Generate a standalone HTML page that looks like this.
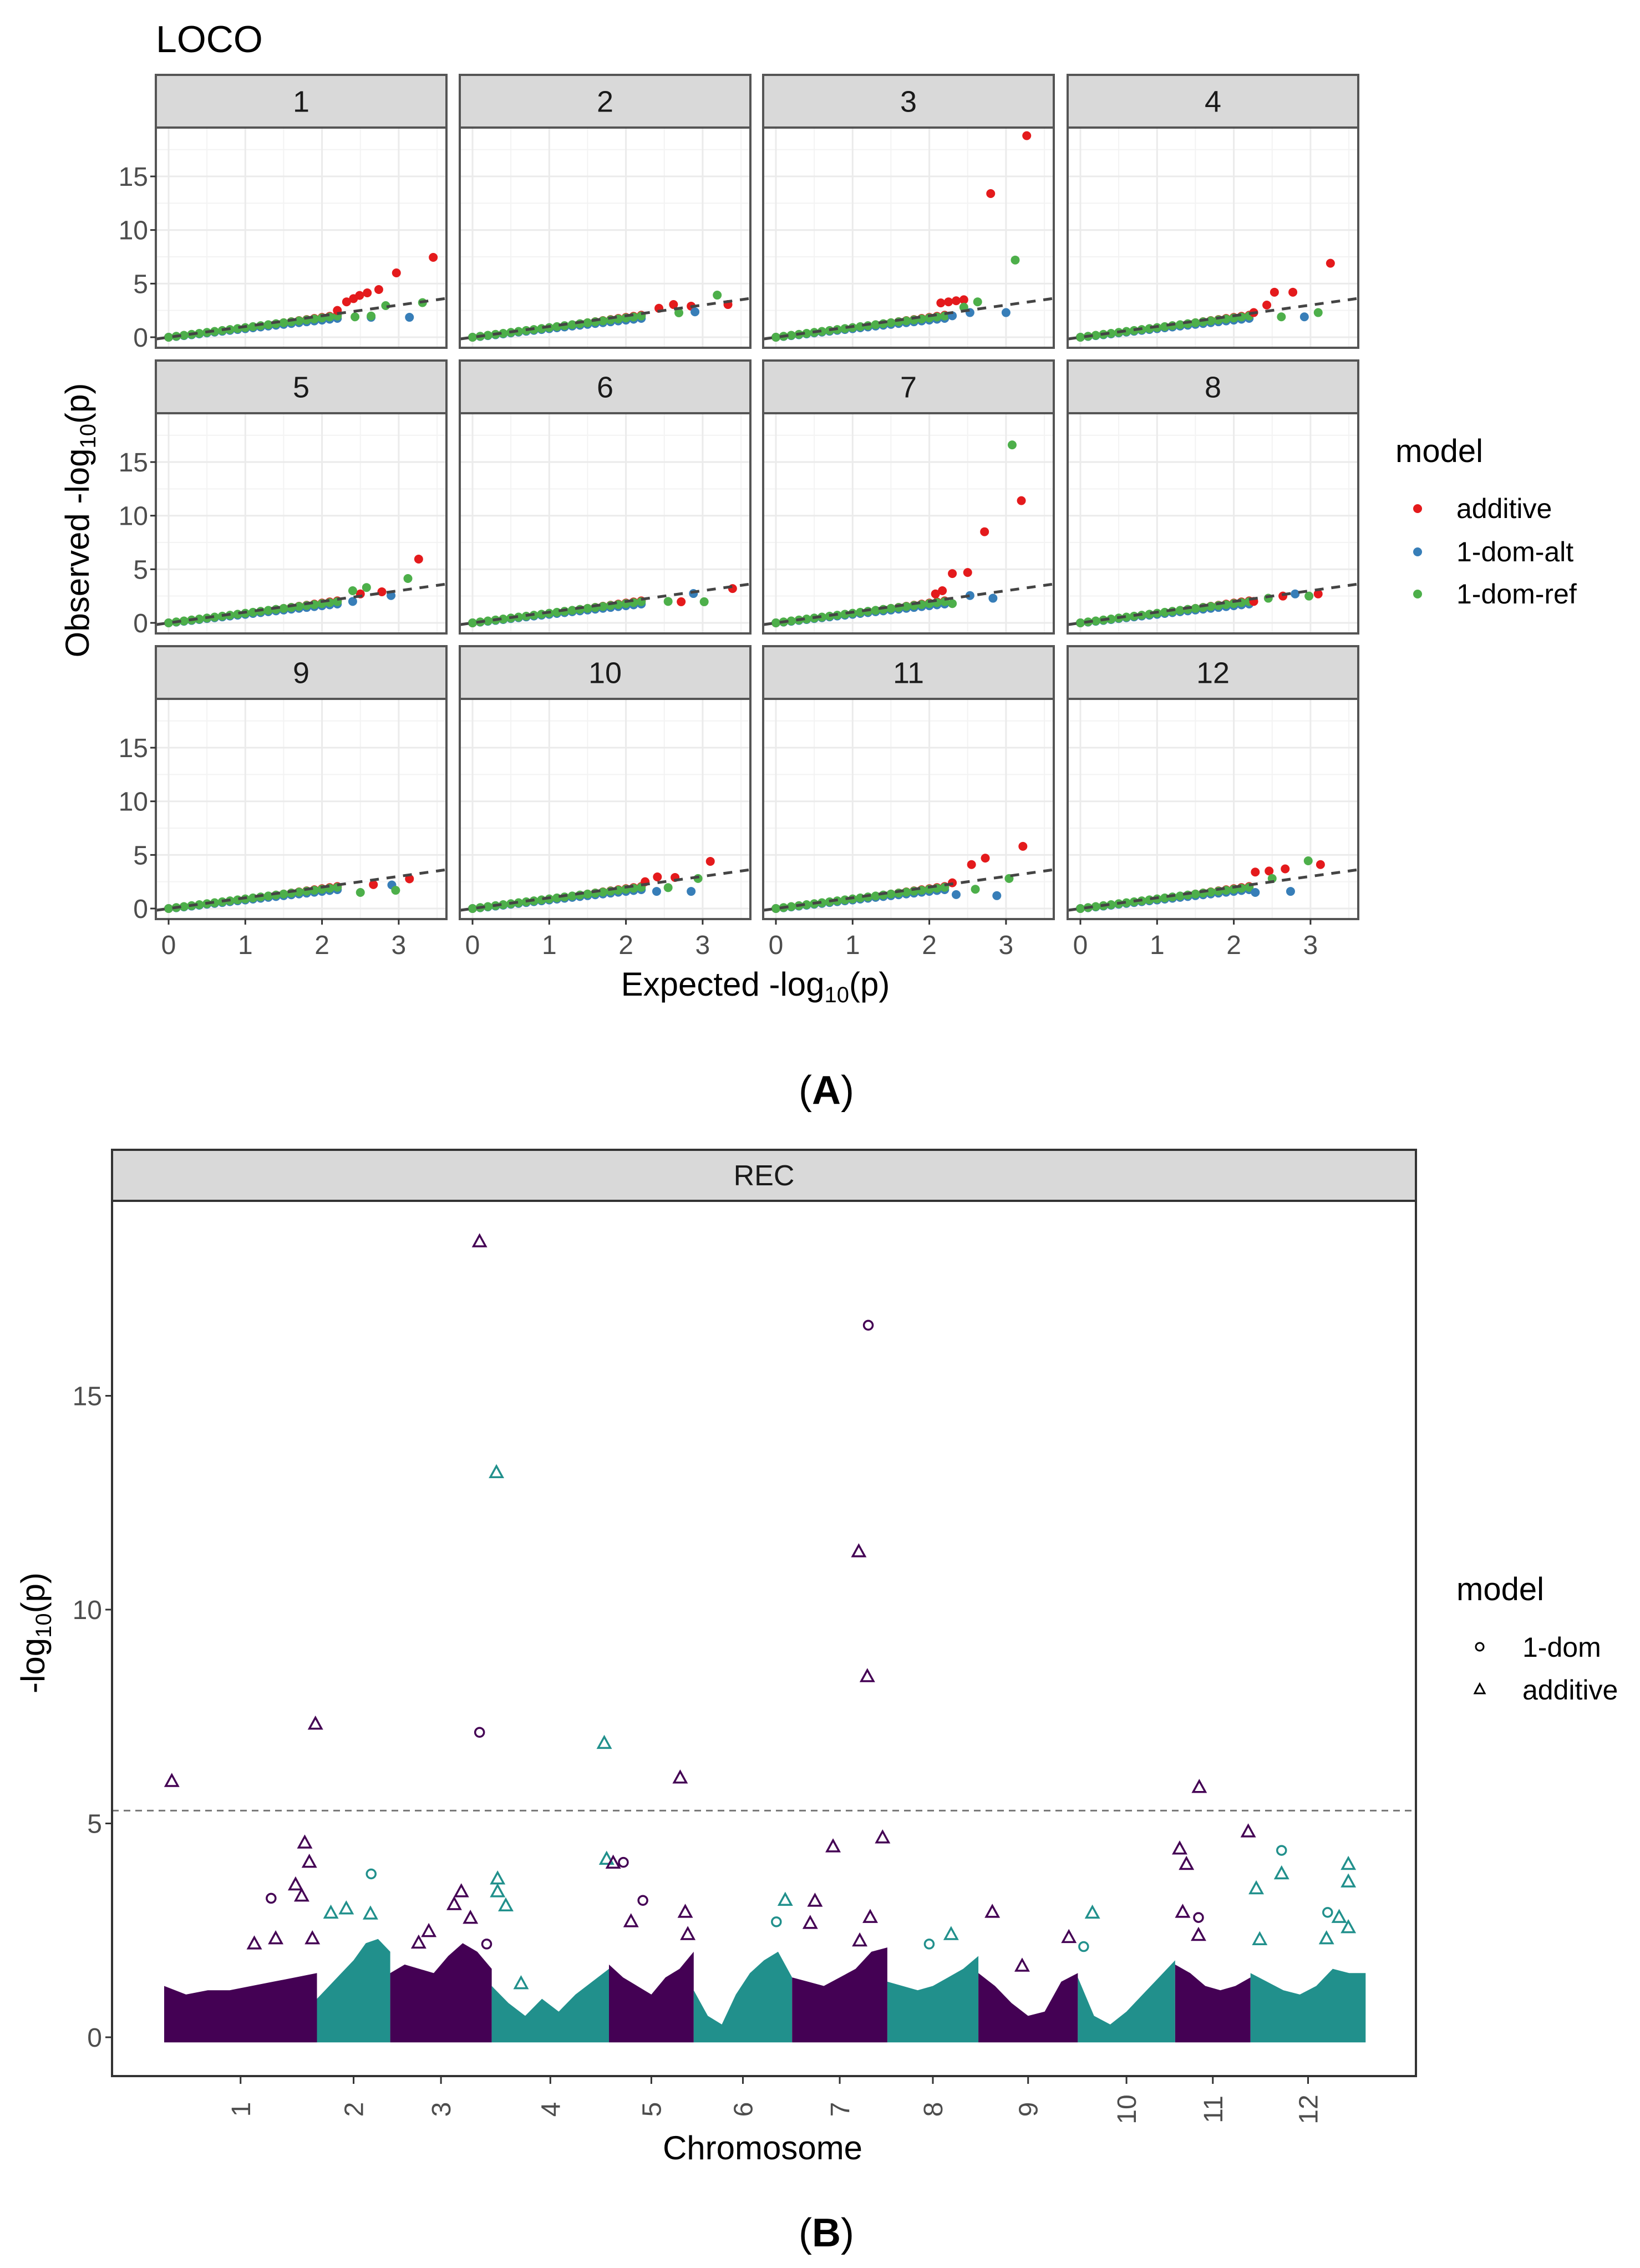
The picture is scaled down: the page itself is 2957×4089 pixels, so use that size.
<!DOCTYPE html>
<html><head><meta charset="utf-8">
<style>
html,body{margin:0;padding:0;background:#fff;}
svg{display:block;}
text{font-family:"Liberation Sans",Arial,sans-serif;}
</style></head>
<body>
<svg id="fig" xmlns="http://www.w3.org/2000/svg" width="2957" height="4089" viewBox="0 0 2957 4089">
<rect x="0" y="0" width="2957" height="4089" fill="#fff"/>
<g id="qq"></g>
<g id="mh"></g>
<text x="281" y="94" font-size="68" fill="#000">LOCO</text>
<text x="1362" y="1795" font-size="60" text-anchor="middle" fill="#000">Expected -log<tspan font-size="40" dy="12">10</tspan><tspan dy="-12">(p)</tspan></text>
<text transform="translate(160,938) rotate(-90)" font-size="60" text-anchor="middle" fill="#000">Observed -log<tspan font-size="40" dy="12">10</tspan><tspan dy="-12">(p)</tspan></text>
<g>
<text x="2516" y="833" font-size="58" fill="#000">model</text>
<circle cx="2556" cy="917" r="8" fill="#e41a1c"/>
<text x="2626" y="934" font-size="50" fill="#000">additive</text>
<circle cx="2556" cy="995" r="8" fill="#377eb8"/>
<text x="2626" y="1012" font-size="50" fill="#000">1-dom-alt</text>
<circle cx="2556" cy="1071" r="8" fill="#4daf4a"/>
<text x="2626" y="1088" font-size="50" fill="#000">1-dom-ref</text>
</g>
<text x="1490" y="1990" font-size="72" text-anchor="middle" font-family="Liberation Serif,serif" fill="#000">(<tspan font-weight="bold">A</tspan>)</text>
<text x="1490" y="4050" font-size="72" text-anchor="middle" font-family="Liberation Serif,serif" fill="#000">(<tspan font-weight="bold">B</tspan>)</text>
<text x="1375" y="3893" font-size="60" text-anchor="middle" fill="#000">Chromosome</text>
<text transform="translate(80,2944) rotate(-90)" font-size="60" text-anchor="middle" fill="#000">-log<tspan font-size="40" dy="12">10</tspan><tspan dy="-12">(p)</tspan></text>
<g>
<text x="2626" y="2885" font-size="58" fill="#000">model</text>
<circle cx="2668" cy="2969" r="7" fill="none" stroke="#000" stroke-width="3"/>
<text x="2745" y="2987" font-size="50" fill="#000">1-dom</text>
<path d="M2668,3036 L2677,3053 L2659,3053 Z" fill="none" stroke="#000" stroke-width="3"/>
<text x="2745" y="3064" font-size="50" fill="#000">additive</text>
</g>
</svg>
<script>
// ================= QQ data =================
const qqPanels = ["1","2","3","4","5","6","7","8","9","10","11","12"];
const qqYTicks = [0,5,10,15];
const qqXTicks = [0,1,2,3];
const bulkExpected = [0,0.1,0.2,0.3,0.4,0.5,0.6,0.7,0.8,0.9,1.0,1.1,1.2,1.3,1.4,1.5,1.6,1.7,1.8,1.9,2.0,2.1,2.2];
const bulkAdditive = [0,0.08,0.17,0.26,0.34,0.43,0.52,0.6,0.69,0.78,0.88,0.97,1.06,1.15,1.25,1.35,1.45,1.55,1.65,1.75,1.85,1.95,2.05];
const bulkDomAlt   = [0,0.07,0.15,0.23,0.31,0.4,0.48,0.56,0.64,0.72,0.8,0.88,0.96,1.04,1.12,1.2,1.28,1.36,1.44,1.52,1.6,1.68,1.76];
const bulkDomRef   = [0,0.09,0.18,0.27,0.36,0.45,0.54,0.63,0.72,0.81,0.9,0.99,1.08,1.17,1.26,1.35,1.44,1.53,1.62,1.71,1.8,1.89,1.98];
// tails per panel: [expected, observed]
const tailAdditive = [
 [[3.45,7.45],[2.97,6.0],[2.74,4.45],[2.59,4.14],[2.49,3.9],[2.41,3.6],[2.32,3.3],[2.2,2.5]],
 [[3.33,3.05],[2.85,2.9],[2.62,3.05],[2.43,2.7]],
 [[3.27,18.8],[2.8,13.4],[2.45,3.5],[2.35,3.4],[2.25,3.3],[2.15,3.2]],
 [[3.26,6.9],[2.77,4.2],[2.53,4.2],[2.43,3.0],[2.26,2.3]],
 [[3.26,5.95],[2.78,2.9],[2.5,2.7]],
 [[3.39,3.2],[2.72,1.97]],
 [[3.2,11.4],[2.72,8.5],[2.5,4.7],[2.3,4.6],[2.17,3.0],[2.08,2.7]],
 [[3.1,2.7],[2.64,2.5],[2.26,2.0]],
 [[3.14,2.77],[2.67,2.23]],
 [[3.1,4.4],[2.64,2.9],[2.41,2.95],[2.25,2.5]],
 [[3.22,5.8],[2.73,4.7],[2.55,4.1],[2.3,2.4]],
 [[3.13,4.1],[2.67,3.7],[2.46,3.5],[2.28,3.4]]
];
const tailDomAlt = [
 [[3.14,1.86],[2.64,1.86]],
 [[2.9,2.37]],
 [[3.0,2.3],[2.53,2.3],[2.3,2.0]],
 [[2.92,1.9]],
 [[2.9,2.55],[2.4,2.0]],
 [[2.88,2.74]],
 [[2.53,2.55],[2.83,2.3]],
 [[2.8,2.7]],
 [[2.91,2.2]],
 [[2.85,1.6],[2.4,1.6]],
 [[2.88,1.2],[2.35,1.3]],
 [[2.74,1.6],[2.28,1.5]]
];
const tailDomRef = [
 [[3.31,3.23],[2.83,2.95],[2.64,1.98],[2.43,1.9]],
 [[3.19,3.93],[2.69,2.28]],
 [[3.12,7.2],[2.63,3.3],[2.45,2.8]],
 [[3.1,2.3],[2.62,1.9]],
 [[3.12,4.14],[2.58,3.3],[2.4,3.0]],
 [[3.02,1.97],[2.55,2.0]],
 [[3.08,16.6],[2.3,1.8]],
 [[2.98,2.5],[2.45,2.3]],
 [[2.96,1.7],[2.5,1.5]],
 [[2.94,2.8],[2.55,1.95]],
 [[3.04,2.8],[2.6,1.8]],
 [[2.97,4.45],[2.5,2.8]]
];

// ================= Manhattan data =================
const chromNames = ["1","2","3","4","5","6","7","8","9","10","11","12"];
const chromLengths = [146,70,97,112,81,94,91,87,95,93,72,110];
const chromProfiles = [
 [1.2,1.0,1.1,1.1,1.2,1.3,1.4,1.5],
 [0.9,1.2,1.5,1.8,2.2,2.3,2.0],
 [1.5,1.7,1.6,1.5,1.9,2.2,2.0,1.6],
 [1.2,0.8,0.5,0.9,0.6,1.0,1.3,1.6],
 [1.7,1.4,1.2,1.0,1.4,1.6,2.0],
 [1.1,0.5,0.3,1.0,1.5,1.8,2.0,1.4],
 [1.4,1.3,1.2,1.4,1.6,2.0,2.1],
 [1.3,1.2,1.1,1.2,1.4,1.6,1.9],
 [1.5,1.2,0.8,0.5,0.6,1.3,1.5],
 [1.4,0.5,0.3,0.6,1.0,1.4,1.8],
 [1.7,1.5,1.2,1.1,1.2,1.4],
 [1.5,1.3,1.1,1.0,1.2,1.6,1.5,1.5]
];
const mhYTicks = [0,5,10,15];
const mhThreshold = 5.3;
// points: chromosome index (0-based), fraction in chromosome, -log10 p, shape
const snpChrom = [0,0,2,2,3,3,4,6,6,6,10, 0,0,0,0,0,0,0,0, 1,1,1,1, 2,3,3,3,2,2,2,2,2, 3,4,4,4,4,4,4,3, 5,5, 6,6,6,6,6,6, 8,7,7,8, 8,9,9, 10,10,10,10,10, 10,11,11,11,11,11,11,11,11,11,11];
const snpFrac  = [0.05,0.99,0.88,0.88,0.04,0.96,0.84,0.80,0.70,0.79,0.32, 0.92,0.95,0.86,0.90,0.70,0.97,0.73,0.59, 0.74,0.40,0.19,0.73, 0.70,0.05,0.05,0.12,0.38,0.28,0.63,0.79,0.95, 0.98,0.05,0.17,0.40,0.26,0.90,0.93,0.25, 0.93,0.84, 0.43,0.95,0.24,0.19,0.82,0.71, 0.14,0.70,0.46,0.44, 0.91,0.06,0.15, 0.06,0.15,0.10,0.31,0.31, 0.97,0.27,0.27,0.05,0.08,0.85,0.85,0.67,0.77,0.85,0.66];
const snpValue = [5.98,7.32,18.6,7.13,13.2,6.87,6.06,16.65,11.35,8.43,5.84, 4.54,4.09,3.56,3.3,3.25,2.3,2.3,2.18, 3.82,3.0,2.9,2.88, 3.4,3.7,3.4,3.07,2.47,2.2,3.1,2.78,2.18, 4.16,4.07,4.09,3.2,2.7,2.92,2.4,1.25, 3.2,2.7, 4.45,4.66,3.18,2.66,2.8,2.25, 2.92,2.4,2.18,1.66, 2.33,2.12,2.9, 4.4,4.04,2.92,2.8,2.38, 4.8,4.37,3.82,3.47,2.28,4.04,3.63,2.92,2.8,2.56,2.3];
const snpModel = ["a","a","a","d","a","a","a","d","a","a","a", "a","a","a","a","d","a","a","a", "d","a","a","a", "a","a","a","a","a","a","a","a","d", "a","a","d","d","a","a","a","a", "a","d", "a","a","a","a","a","a", "a","a","d","a", "a","d","a", "a","a","a","d","a", "a","d","a","a","a","a","a","d","a","a","a"];

const NS = "http://www.w3.org/2000/svg";
function mk(tag, attrs, parent){ const e=document.createElementNS(NS,tag); for(const k in attrs) e.setAttribute(k,attrs[k]); parent.appendChild(e); return e; }

// ---------- QQ drawing ----------
const qq = document.getElementById('qq');
const colLeft = [281,829,1376,1925];
const panelW = 524;
const stripTop = [135,650,1165];
const plotTop = [230,745,1260];
const plotBottom = [627,1142,1657];
const colZero = [304,852,1399,1948];
const rowZero = [608,1123,1638];
const XU = 138.3, YU = 19.33;
const cols = {a:"#e41a1c", b:"#377eb8", g:"#4daf4a"};
qqPanels.forEach((name,i)=>{
  const c=i%4, r=Math.floor(i/4);
  const sx = v=>colZero[c]+v*XU;
  const sy = v=>rowZero[r]-v*YU;
  const g = mk('g',{},qq);
  
  
  const bg = mk('rect',{x:colLeft[c],y:plotTop[r],width:panelW,height:plotBottom[r]-plotTop[r],fill:'#fff'},g);
  
  
  // minor grid
  [0.5,1.5,2.5,3.5].forEach(v=>{ const l=mk('line',{x1:sx(v),x2:sx(v),y1:plotTop[r],y2:plotBottom[r],stroke:'#f3f3f3','stroke-width':2},g);
     });
  [2.5,7.5,12.5,17.5].forEach(v=>{ const l=mk('line',{x1:colLeft[c],x2:colLeft[c]+panelW,y1:sy(v),y2:sy(v),stroke:'#f3f3f3','stroke-width':2},g);
     });
  qqXTicks.forEach(v=>{ const l=mk('line',{x1:sx(v),x2:sx(v),y1:plotTop[r],y2:plotBottom[r],stroke:'#ebebeb','stroke-width':3},g);
     });
  qqYTicks.forEach(v=>{ const l=mk('line',{x1:colLeft[c],x2:colLeft[c]+panelW,y1:sy(v),y2:sy(v),stroke:'#ebebeb','stroke-width':3},g);
     });
  // points
  function dots(xs, ys, col, nm){ xs.forEach((x,k)=>{ const d=mk('circle',{cx:sx(x),cy:sy(ys[k]),r:8,fill:col},g);
        }); }
  dots(bulkExpected,bulkAdditive,cols.a,'point-additive');
  dots(bulkExpected,bulkDomAlt,cols.b,'point-1-dom-alt');
  dots(bulkExpected,bulkDomRef,cols.g,'point-1-dom-ref');
  tailAdditive[i].forEach(p=>{ const d=mk('circle',{cx:sx(p[0]),cy:sy(p[1]),r:8,fill:cols.a},g);  });
  tailDomAlt[i].forEach(p=>{ const d=mk('circle',{cx:sx(p[0]),cy:sy(p[1]),r:8,fill:cols.b},g);  });
  tailDomRef[i].forEach(p=>{ const d=mk('circle',{cx:sx(p[0]),cy:sy(p[1]),r:8,fill:cols.g},g);  });
  const ref = mk('line',{x1:colLeft[c],y1:sy((colLeft[c]-colZero[c])/XU),x2:colLeft[c]+panelW,y2:sy((colLeft[c]+panelW-colZero[c])/XU),stroke:'#444','stroke-width':5,'stroke-dasharray':'16 14'},g);
  
  
  const bd = mk('rect',{x:colLeft[c],y:plotTop[r],width:panelW,height:plotBottom[r]-plotTop[r],fill:'none',stroke:'#555','stroke-width':4},g);
  
  
  const st = mk('rect',{x:colLeft[c],y:stripTop[r],width:panelW,height:plotTop[r]-stripTop[r],fill:'#d9d9d9',stroke:'#555','stroke-width':4},g);
  
  
  const tx = mk('text',{x:colLeft[c]+panelW/2,y:(stripTop[r]+plotTop[r])/2+19,'font-size':54,'text-anchor':'middle',fill:'#1a1a1a'},g);
  tx.textContent=name;
  
  
  if(c===0){ qqYTicks.forEach(v=>{
    const t=mk('line',{x1:colLeft[c]-10,x2:colLeft[c],y1:sy(v),y2:sy(v),stroke:'#333','stroke-width':3},g);
     
    const l=mk('text',{x:colLeft[c]-14,y:sy(v)+17,'font-size':48,'text-anchor':'end',fill:'#4d4d4d'},g); l.textContent=v;
      }); }
  if(r===2){ qqXTicks.forEach(v=>{
    const t=mk('line',{x1:sx(v),x2:sx(v),y1:plotBottom[r],y2:plotBottom[r]+10,stroke:'#333','stroke-width':3},g);
     
    const l=mk('text',{x:sx(v),y:plotBottom[r]+63,'font-size':48,'text-anchor':'middle',fill:'#4d4d4d'},g); l.textContent=v;
      }); }
});

// ---------- Manhattan drawing ----------
const mh = document.getElementById('mh');
const PL=202, PR=2553, ST=2073, PT=2165, PB=3743;
const X0=296, XS=1.887, Y0=3673, YSU=77.1;
const my = v=>Y0-v*YSU;
const starts=[]; let acc=0; chromLengths.forEach(L=>{starts.push(acc); acc+=L;});
const gx = (ci,f)=>X0+(starts[ci]+f*chromLengths[ci])*XS;
const pbg = mk('rect',{x:PL,y:PT,width:PR-PL,height:PB-PT,fill:'#fff'},mh);


const colorsM=["#440154","#21908C"];
chromProfiles.forEach((prof,ci)=>{
  const n=prof.length; let d='M'+gx(ci,0)+','+my(-0.12);
  prof.forEach((v,k)=>{ d+=' L'+gx(ci,k/(n-1)).toFixed(1)+','+my(v).toFixed(1); });
  d+=' L'+gx(ci,1)+','+my(-0.12)+' Z';
  const p=mk('path',{d:d,fill:colorsM[ci%2]},mh);
  
  
});
const th = mk('line',{x1:PL,x2:PR,y1:my(mhThreshold),y2:my(mhThreshold),stroke:'#777','stroke-width':3,'stroke-dasharray':'12 9'},mh);


snpChrom.forEach((ci,k)=>{
  const x=gx(ci,snpFrac[k]), y=my(snpValue[k]), col=colorsM[ci%2];
  let e;
  if(snpModel[k]==='d'){ e=mk('circle',{cx:x,cy:y,r:8,fill:'none',stroke:col,'stroke-width':3.5},mh);
     }
  else { e=mk('path',{d:`M${x},${y-12} L${x+11},${y+8} L${x-11},${y+8} Z`,fill:'none',stroke:col,'stroke-width':3.5},mh);
     }
  
});
const mb = mk('rect',{x:PL,y:PT,width:PR-PL,height:PB-PT,fill:'none',stroke:'#333','stroke-width':4},mh);


const ms = mk('rect',{x:PL,y:ST,width:PR-PL,height:PT-ST,fill:'#d9d9d9',stroke:'#333','stroke-width':4},mh);


const mst = mk('text',{x:(PL+PR)/2,y:(ST+PT)/2+18,'font-size':52,'text-anchor':'middle',fill:'#1a1a1a'},mh);
mst.textContent='REC';


mhYTicks.forEach(v=>{
  const t=mk('line',{x1:PL-12,x2:PL,y1:my(v),y2:my(v),stroke:'#333','stroke-width':3},mh);
   
  const l=mk('text',{x:PL-18,y:my(v)+17,'font-size':48,'text-anchor':'end',fill:'#4d4d4d'},mh); l.textContent=v;
   
});
chromNames.forEach((nm,ci)=>{
  const x=gx(ci,0.5);
  const t=mk('line',{x1:x,x2:x,y1:PB,y2:PB+14,stroke:'#333','stroke-width':3},mh);
   
  const l=mk('text',{transform:`translate(${x+17},${PB+60}) rotate(-90)`,'font-size':48,'text-anchor':'middle',fill:'#4d4d4d'},mh); l.textContent=nm;
   
});
</script>
</body></html>
